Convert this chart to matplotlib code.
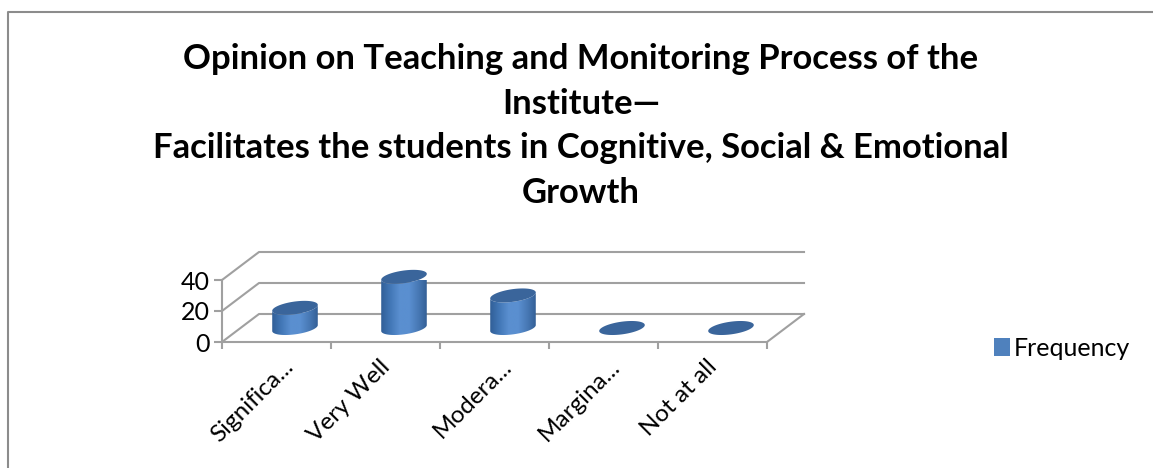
import numpy as np
import matplotlib
matplotlib.use("Agg")
import matplotlib.pyplot as plt
from matplotlib.patches import Patch, Polygon
from matplotlib.transforms import ScaledTranslation
from matplotlib.colors import LinearSegmentedColormap

categories = ["Significa...", "Very Well", "Modera...", "Margina...", "Not at all"]
frequency = [13, 33, 21, 0, 0]
y_ticks = [0, 20, 40]
series_name = "Frequency"
title = ("Opinion on Teaching and Monitoring Process of the\nInstitute\u2014\n"
         "Facilitates the students in Cognitive, Social & Emotional\nGrowth")

W, H = 1153, 468
FONT = "Lato"
GRID = "#a0a0a0"
fig = plt.figure(figsize=(W / 100, H / 100), dpi=100)
fig.patch.set_facecolor("white")

# outer frame
fig.add_artist(plt.Line2D([7.5 / W, 7.5 / W, 1], [0, 1 - 11.5 / H, 1 - 11.5 / H],
                          color="#8c8c8c", lw=1.5, transform=fig.transFigure))

fig.text(581 / W, 1 - 43 / H, title, ha="center", va="top", fontsize=24.9,
         fontweight="bold", family=FONT, linespacing=1.49, color="black")

# axes = front plane of the 3-D box
L, R, B, T = 222, 767, 342, 280
ax = fig.add_axes([L / W, 1 - B / H, (R - L) / W, (B - T) / H])
ax.set_xlim(0, len(categories))
ax.set_ylim(0, 40)
ax.patch.set_visible(False)
for s in ["top", "right"]:
    ax.spines[s].set_visible(False)
for s in ["left", "bottom"]:
    ax.spines[s].set_color(GRID)
    ax.spines[s].set_linewidth(1.5)

px_x = (R - L) / len(categories)
px_y = (B - T) / 40
DX, DY = 37 / px_x, 28 / px_y   # depth of box in data units

# walls
for v in y_ticks:
    ax.plot([0, DX, len(categories) + DX], [v, v + DY, v + DY], color=GRID, lw=1.5,
            clip_on=False, zorder=1)
ax.plot([len(categories), len(categories) + DX], [0, DY], color=GRID, lw=1.5,
        clip_on=False, zorder=1)

ax.set_yticks(y_ticks)
ax.set_xticks(np.arange(len(categories) + 1), minor=False, labels=[""] * (len(categories) + 1))
ax.set_xticks(np.arange(len(categories)) + 0.5, labels=categories, minor=True)
ax.tick_params(axis="x", which="major", length=5, width=1.5, color=GRID)
ax.tick_params(axis="x", which="minor", length=0, pad=0)
ax.tick_params(axis="y", length=6, width=1.5, color=GRID, pad=3)
for t in ax.get_yticklabels():
    t.set(fontsize=18, family=FONT, color="black")
for t in ax.get_xticklabels(minor=True):
    shift = 6 if t.get_text().endswith("...") else -6
    off = ScaledTranslation(shift / 100, -14 / 100, fig.dpi_scale_trans)
    t.set(fontsize=17.5, family=FONT, color="black", rotation=45, ha="right", va="top",
          rotation_mode="anchor")
    t.set_transform(t.get_transform() + off)

# cylinders
cmap = LinearSegmentedColormap.from_list(
    "cyl", ["#2f5c94", "#4176b5", "#5a8fd0", "#5a8fd0", "#4677b3", "#2f5a8f"])
TOP = "#3a659b"
a, b, tilt = 23.0, 6.3, np.radians(8)


def ellipse(cx, cy, t):
    ex = a * np.cos(t) * np.cos(tilt) - b * np.sin(t) * np.sin(tilt)
    ey = a * np.cos(t) * np.sin(tilt) + b * np.sin(t) * np.cos(tilt)
    return cx + ex / px_x, cy + ey / px_y


theta = np.linspace(0, 2 * np.pi, 120)
for i, v in enumerate(frequency):
    cx = i + 0.5 + 0.5 * DX
    y0 = 0.5 * DY
    if v > 0:
        lower = np.linspace(np.pi, 2 * np.pi, 60)
        ex, ey = ellipse(cx, y0, lower)
        tx, ty = ellipse(cx, y0 + v, lower[::-1])
        body = Polygon(np.column_stack([np.r_[ex, tx], np.r_[ey, ty]]), closed=True,
                       transform=ax.transData, fc="none", ec="none", clip_on=False)
        ax.add_patch(body)
        hw = a / px_x * 1.05
        im = ax.imshow(np.linspace(0, 1, 128)[None, :], cmap=cmap, aspect="auto",
                       extent=[cx - hw, cx + hw, y0 - 12 / px_y, y0 + v + 12 / px_y],
                       zorder=3)
        im.set_clip_path(body)
    ex, ey = ellipse(cx, y0 + v, theta)
    ax.add_patch(Polygon(np.column_stack([ex, ey]), closed=True, fc=TOP, ec="none",
                         zorder=4, clip_on=False))
ax.set_xlim(0, len(categories))
ax.set_ylim(0, 40)

fig.legend(handles=[Patch(facecolor="#4f81bd", edgecolor="none", label=series_name)],
           loc="center left", bbox_to_anchor=(971 / W, 1 - 348.5 / H), frameon=False,
           handlelength=0.65, handleheight=0.75, handletextpad=0.15,
           prop={"family": FONT, "size": 18})

fig.savefig("out.png", dpi=100, facecolor="white")
